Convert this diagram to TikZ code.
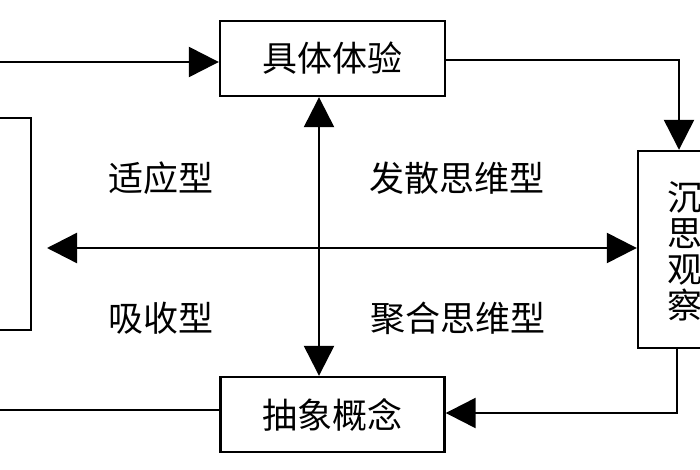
\documentclass[tikz,border=0pt]{standalone}
\usepackage{fontspec}
\newfontfamily\cjk{Noto Sans CJK SC}
\usetikzlibrary{arrows.meta}
\begin{document}
\begin{tikzpicture}[x=1pt,y=-1pt,
  box/.style={draw,line width=2.4pt,inner sep=0pt,align=center},
  conn/.style={line width=2.4pt},
  tip/.style={-{Triangle[length=30pt,width=30pt]}},
  lbl/.style={inner sep=0pt,font=\cjk\fontsize{35}{40}\selectfont}]
\useasboundingbox (0,0) rectangle (700,470);
\clip (0,0) rectangle (700,470);
\fill[white] (0,0) rectangle (700,470);
\node[box,minimum width=225pt,minimum height=75pt,font=\cjk\fontsize{35}{40}\selectfont] (top) at (332.5,58.5) {具体体验};
\node[box,minimum width=224pt,minimum height=75pt,font=\cjk\fontsize{35}{40}\selectfont] (bot) at (332.5,414.5) {抽象概念};
\node[box,minimum width=90pt,minimum height=212pt] (left) at (-14,224) {};
\node[box,minimum width=90pt,minimum height=197pt] (right) at (683,249.5) {};
\node[lbl,align=center,font=\cjk\fontsize{35}{36}\selectfont] (rtext) at (685,251.5) {沉\\思\\观\\察};
\node[lbl] (l1) at (161,178) {适应型};
\node[lbl] (l2) at (457,178) {发散思维型};
\node[lbl] (l3) at (161,318) {吸收型};
\node[lbl] (l4) at (458,318) {聚合思维型};
\coordinate (inL) at (-5,62);
\coordinate (outL) at (-5,410);
\coordinate (tr) at (679,60);
\coordinate (br) at (677,413);
\draw[conn,tip] (inL) -- (inL -| top.west);
\draw[conn,tip] (tr -| top.east) -- (tr) -- (tr |- right.north);
\draw[conn,tip] (br |- right.south) -- (br) -- (br -| bot.east);
\draw[conn] (outL -| bot.west) -- (outL);
\draw[conn,{Triangle[length=30pt,width=30pt]}-{Triangle[length=30pt,width=30pt]}] ([xshift=-13.5pt]top.south) -- ([xshift=-13.5pt]bot.north);
\coordinate (hl) at (47,248);
\draw[conn,{Triangle[length=30pt,width=30pt]}-{Triangle[length=30pt,width=30pt]}] (hl) -- (hl -| right.west);
\end{tikzpicture}
\end{document}
